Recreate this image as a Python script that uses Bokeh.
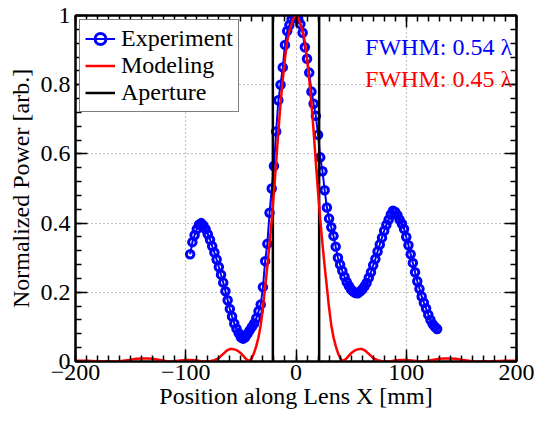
from bokeh.plotting import figure
from bokeh.models import Range1d, FixedTicker, LinearAxis, Label, Legend, LegendItem
from bokeh.embed import file_html
from bokeh.resources import INLINE

# ---------------- data ----------------
exp_x = [-96, -94, -92, -90, -88, -86, -84, -82, -80, -78, -76, -74, -72, -70, -68, -66,
         -64, -62, -60, -58, -56, -54, -52, -50, -48, -46, -44, -42, -40, -38, -36, -34,
         -32, -30, -28, -26, -24, -22, -20, -18, -16, -14, -12, -10, -8, -6, -4, -2, 0,
         2, 4, 6, 8, 10, 12, 14, 16, 18, 20, 22, 24, 26, 28, 30, 32, 34, 36, 38, 40, 42,
         44, 46, 48, 50, 52, 54, 56, 58, 60, 62, 64, 66, 68, 70, 72, 74, 76, 78, 80, 82,
         84, 86, 88, 90, 92, 94, 96, 98, 100, 102, 104, 106, 108, 110, 112, 114, 116, 118,
         120, 122, 124, 126, 128]
exp_y = [0.31, 0.345, 0.365, 0.382, 0.395, 0.40, 0.393, 0.382, 0.368, 0.352, 0.333, 0.315,
         0.295, 0.273, 0.251, 0.228, 0.203, 0.177, 0.152, 0.13, 0.11, 0.095, 0.082, 0.07,
         0.066, 0.07, 0.08, 0.09, 0.10, 0.11, 0.125, 0.145, 0.165, 0.215, 0.29, 0.34, 0.43,
         0.50, 0.565, 0.665, 0.755, 0.80, 0.85, 0.915, 0.955, 0.972, 0.99, 0.999, 1.0,
         0.99, 0.975, 0.95, 0.908, 0.875, 0.835, 0.78, 0.745, 0.71, 0.655, 0.59, 0.55,
         0.495, 0.445, 0.413, 0.388, 0.363, 0.332, 0.30, 0.28, 0.262, 0.245, 0.23, 0.218,
         0.208, 0.202, 0.198, 0.197, 0.202, 0.208, 0.217, 0.227, 0.242, 0.258, 0.278,
         0.296, 0.318, 0.338, 0.358, 0.378, 0.395, 0.41, 0.425, 0.436, 0.432, 0.423, 0.41,
         0.398, 0.383, 0.36, 0.336, 0.31, 0.285, 0.258, 0.232, 0.21, 0.188, 0.17, 0.153,
         0.135, 0.12, 0.108, 0.10, 0.094]

model_x = [-200, -190, -180, -170, -160, -155, -150, -145, -140, -135, -130, -125, -120,
           -115, -110, -105, -100, -95, -90, -86, -82, -78, -74, -70, -68, -66, -64, -62,
           -60, -58, -56, -54, -52, -50, -48, -46, -44, -42, -40, -38, -36, -34, -32, -30,
           -28, -26, -24, -22, -20, -18, -16, -14, -12, -10, -8, -6, -4, -2, 0,
           2, 4, 6, 8, 10, 12, 14, 16, 18, 20, 22, 24, 26, 28, 30, 32, 34, 36, 38, 40, 42,
           44, 46, 48, 50, 52, 54, 56, 58, 60, 62, 64, 66, 68, 70, 74, 78, 82, 86, 90, 95,
           100, 105, 110, 115, 120, 125, 130, 135, 140, 145, 150, 155, 160, 170, 180, 190, 200]
model_y = [0.002, 0.002, 0.001, 0.0, 0.001, 0.003, 0.005, 0.008, 0.009, 0.009, 0.008, 0.005,
           0.002, 0.0, 0.001, 0.003, 0.004, 0.004, 0.003, 0.001, 0.0, 0.001, 0.004, 0.01,
           0.016, 0.022, 0.028, 0.033, 0.036, 0.036, 0.035, 0.033, 0.029, 0.024, 0.017,
           0.01, 0.004, 0.002, 0.01, 0.025, 0.045, 0.07, 0.105, 0.155, 0.215, 0.275, 0.34,
           0.41, 0.49, 0.575, 0.665, 0.745, 0.815, 0.875, 0.925, 0.955, 0.975, 0.993, 1.0,
           0.993, 0.975, 0.955, 0.925, 0.875, 0.815, 0.745, 0.665, 0.575, 0.49, 0.41, 0.34,
           0.275, 0.215, 0.155, 0.105, 0.07, 0.045, 0.025, 0.01, 0.002, 0.004, 0.01, 0.017,
           0.024, 0.029, 0.033, 0.035, 0.036, 0.036, 0.033, 0.028, 0.022, 0.016, 0.01, 0.004,
           0.001, 0.0, 0.001, 0.003, 0.004, 0.004, 0.003, 0.001, 0.0, 0.002, 0.005, 0.008,
           0.009, 0.009, 0.008, 0.005, 0.003, 0.001, 0.0, 0.001, 0.002, 0.002]

aperture_x = [-21, 21]

x_ticks = [-200, -100, 0, 100, 200]
x_tick_labels = ["\u2212200", "\u2212100", "0", "100", "200"]
y_ticks = [0, 0.2, 0.4, 0.6, 0.8, 1]
y_tick_labels = ["0", "0.2", "0.4", "0.6", "0.8", "1"]
x_title = "Position along Lens X [mm]"
y_title = "Normalized Power [arb.]"
legend_labels = ["Experiment", "Modeling", "Aperture"]
fwhm_texts = ["FWHM: 0.54 \u03bb", "FWHM: 0.45 \u03bb"]

FONT = "'Liberation Serif', 'Times New Roman', serif"
FS = "24px"

p = figure(width=535, height=411, title=None,
           x_range=Range1d(-200, 200), y_range=Range1d(0, 1),
           output_backend="svg", toolbar_location=None,
           min_border_left=75, min_border_right=19, min_border_top=15, min_border_bottom=50)
p.background_fill_color = "white"
p.border_fill_color = "white"
p.outline_line_color = "black"
p.outline_line_width = 2

x_minor = [v for v in range(-200, 201, 10)]
y_minor = [round(i * 0.04, 2) for i in range(0, 26)]

bottom_axis = p.below[0]
left_axis = p.left[0]
bottom_axis.axis_label = x_title
left_axis.axis_label = y_title
bottom_axis.ticker = FixedTicker(ticks=x_ticks, minor_ticks=x_minor)
left_axis.ticker = FixedTicker(ticks=y_ticks, minor_ticks=y_minor)
bottom_axis.major_label_overrides = {t: l for t, l in zip(x_ticks, x_tick_labels)}
left_axis.major_label_overrides = {t: l for t, l in zip(y_ticks, y_tick_labels)}

top_axis = LinearAxis(ticker=FixedTicker(ticks=x_ticks, minor_ticks=x_minor))
right_axis = LinearAxis(ticker=FixedTicker(ticks=y_ticks, minor_ticks=y_minor))
top_axis.major_label_overrides = {t: "" for t in x_ticks}
right_axis.major_label_overrides = {t: "" for t in y_ticks}
for ax in (top_axis, right_axis):
    ax.major_label_standoff = 0
p.add_layout(top_axis, "above")
p.add_layout(right_axis, "right")

for ax in (bottom_axis, left_axis, top_axis, right_axis):
    ax.major_tick_in = 12
    ax.major_tick_out = 0
    ax.minor_tick_in = 6
    ax.minor_tick_out = 0
    ax.axis_line_width = 2
    ax.major_tick_line_width = 1.5
    ax.minor_tick_line_width = 1.5
    ax.axis_line_color = "black"
    ax.major_tick_line_color = "black"
    ax.minor_tick_line_color = "black"
    ax.major_label_text_font = FONT
    ax.major_label_text_font_size = FS
    ax.major_label_text_color = "black"
    ax.axis_label_text_font = FONT
    ax.axis_label_text_font_style = "normal"
    ax.axis_label_text_font_size = FS
    ax.axis_label_text_color = "black"

bottom_axis.major_label_standoff = 3
bottom_axis.axis_label_standoff = 0
left_axis.major_label_standoff = 5
left_axis.axis_label_standoff = 4

p.xgrid.ticker = FixedTicker(ticks=x_ticks)
p.ygrid.ticker = FixedTicker(ticks=y_ticks)
for g in (p.xgrid, p.ygrid):
    g.grid_line_color = "#808080"
    g.grid_line_dash = "1 3"
    g.grid_line_width = 1

r_exp_line = p.line(exp_x, exp_y, line_color="blue", line_width=2)
r_exp_pts = p.scatter(exp_x, exp_y, marker="circle", size=7.5, line_color="blue",
                      line_width=3, fill_color=None)
r_ap = p.segment(x0=aperture_x, y0=[p.y_range.start] * len(aperture_x),
                 x1=aperture_x, y1=[p.y_range.end] * len(aperture_x),
                 line_color="black", line_width=2.5)
r_mod = p.line(model_x, model_y, line_color="red", line_width=2.5)

legend = Legend(items=[
    LegendItem(label=legend_labels[0], renderers=[r_exp_line, r_exp_pts]),
    LegendItem(label=legend_labels[1], renderers=[r_mod]),
    LegendItem(label=legend_labels[2], renderers=[r_ap]),
], location="top_left")
legend.label_text_font = FONT
legend.label_text_font_size = FS
legend.label_text_color = "black"
legend.border_line_color = "black"
legend.border_line_width = 1
legend.background_fill_color = "white"
legend.background_fill_alpha = 1
legend.padding = 5
legend.spacing = 0
legend.margin = 4
legend.glyph_width = 30
legend.glyph_height = 27
legend.label_height = 27
legend.label_standoff = 6
p.add_layout(legend)

p.add_layout(Label(x=196, y=0.91, text=fwhm_texts[0], text_align="right",
                   text_baseline="alphabetic", text_font=FONT, text_font_size=FS,
                   text_color="blue"))
p.add_layout(Label(x=196, y=0.817, text=fwhm_texts[1], text_align="right",
                   text_baseline="alphabetic", text_font=FONT, text_font_size=FS,
                   text_color="red"))

open("out.html", "w").write(file_html(p, INLINE))
